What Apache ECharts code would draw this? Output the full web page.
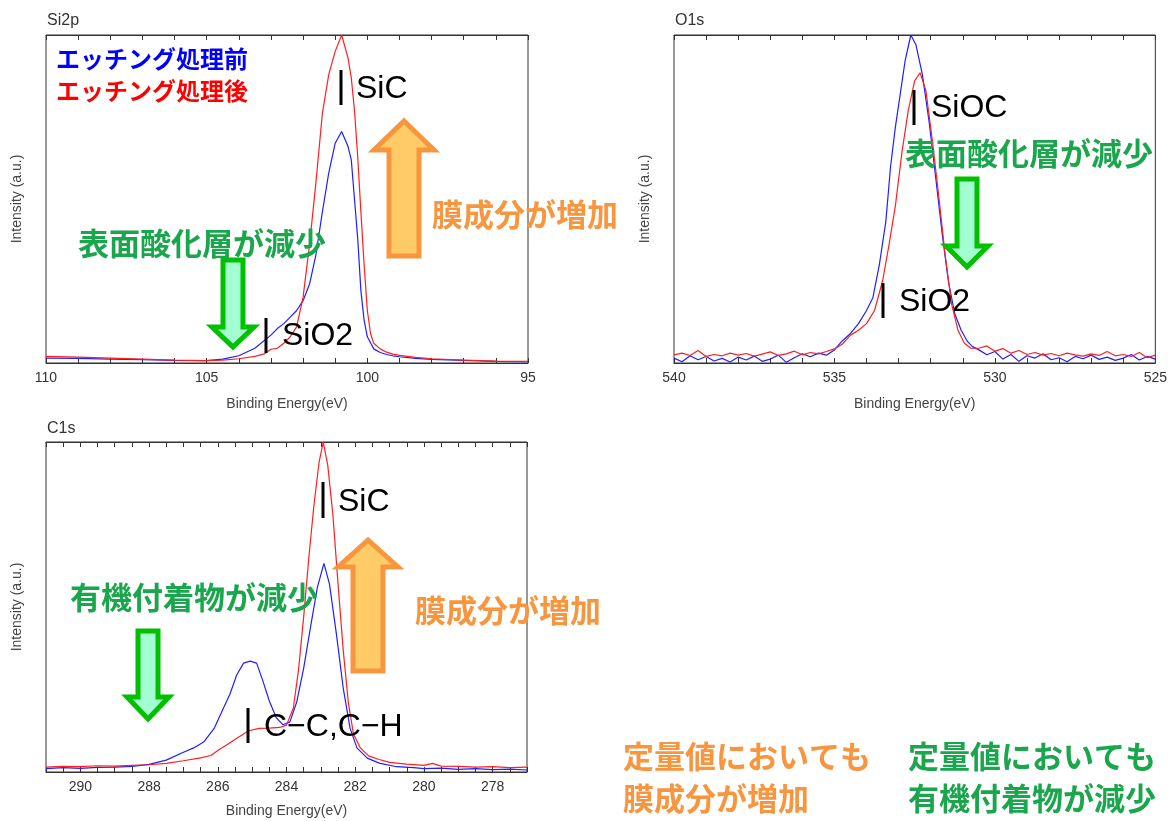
<!DOCTYPE html>
<html>
<head>
<meta charset="utf-8">
<script src="https://cdn.jsdelivr.net/npm/echarts@6/dist/echarts.min.js"></script>
<style>
  html, body { margin: 0; padding: 0; background: #fff; }
  #chart { width: 1170px; height: 821px; }
</style>
</head>
<body>
<div id="chart"></div>
<script>
// Si2p  [Binding Energy (eV), Intensity (a.u.)]
var si2pBefore = [[110,1.5],[109,1.4],[108,1.2],[107,1.0],[106,0.8],[105,0.7],[104.5,1.2],[104,2.2],[103.5,4.5],[103,8.5],[102.8,10.5],[102.6,12],[102.4,14],[102.2,16],[102.0,19],[101.8,24],[101.6,33],[101.4,46],[101.2,58],[101.0,67],[100.8,70.6],[100.6,66],[100.5,62],[100.4,50],[100.3,38],[100.2,22],[100.1,13],[100.0,8],[99.8,4.3],[99.6,3.2],[99.4,2.6],[99.2,2.2],[99,1.9],[98.5,1.4],[98,1.1],[97,0.8],[96,0.5],[95,0.4]]
var si2pAfter = [[110,2.0],[109,1.8],[108,1.5],[107,1.2],[106,0.9],[105,0.7],[104.5,0.9],[104,1.3],[103.5,2.0],[103.2,2.8],[103,4.2],[102.8,4.5],[102.6,6],[102.4,8],[102.2,11],[102.0,20],[101.8,36],[101.6,55],[101.4,76],[101.2,88],[101.0,95],[100.8,100],[100.6,93],[100.5,87],[100.4,77],[100.3,63],[100.2,46],[100.1,30],[100.0,16],[99.9,9],[99.8,6],[99.6,4.3],[99.4,3.3],[99.2,2.7],[99.0,2.3],[98.5,1.7],[98,1.3],[97,0.9],[96,0.6],[95,0.5]]

// O1s
var o1sBefore = [[540,1.5],[539.75,0.4],[539.5,2.2],[539.25,1.0],[539,2.0],[538.75,0.6],[538.5,1.4],[538.25,0.3],[538,1.8],[537.75,0.9],[537.5,2.1],[537.25,0.5],[537,1.2],[536.75,2.4],[536.5,0.2],[536.25,1.6],[536,2.8],[535.75,1.9],[535.5,3.0],[535.25,2.4],[535,4.0],
  [534.75,6.8],[534.5,9],[534.25,12],[534,16],[533.8,20],[533.6,30],[533.4,43],[533.25,60],[533.1,72],[532.95,82],[532.8,92],[532.62,100],[532.46,97],[532.26,88],[532.05,73.6],[531.85,57],[531.65,40],[531.45,25],[531.25,15],[531.05,10],[530.85,6.5],[530.7,5],
  [530.5,4.0],[530.25,2.5],[530,3.5],[529.75,1.2],[529.5,2.6],[529.25,0.5],[529,2.2],[528.75,1.5],[528.5,2.8],[528.25,1.0],[528,1.6],[527.75,0.4],[527.5,2.0],[527.25,1.3],[527,2.4],[526.75,1.1],[526.5,1.8],[526.25,0.8],[526,1.5],[525.75,2.6],[525.5,0.9],[525.25,2.0],[525,1.2]]
var o1sAfter = [[540,2.5],[539.75,3.0],[539.5,2.3],[539.25,3.8],[539,2.0],[538.75,2.6],[538.5,2.2],[538.25,3.0],[538,2.4],[537.75,2.9],[537.5,2.1],[537.25,2.7],[537,3.4],[536.75,2.3],[536.5,2.8],[536.25,3.6],[536,2.5],[535.75,3.2],[535.5,2.8],[535.25,3.5],[535,4.3],
  [534.75,5.8],[534.5,8.5],[534.25,10],[534,12],[533.75,16],[533.5,25],[533.3,36],[533.1,48],[532.9,64],[532.7,77],[532.5,86],[532.33,88.5],[532.15,83],[531.95,68],[531.75,51],[531.55,33],[531.35,18],[531.15,10],[530.95,6],[530.75,4.5],
  [530.5,4.5],[530.25,5.2],[530,3.6],[529.75,4.4],[529.5,3.0],[529.25,3.8],[529,2.6],[528.75,3.2],[528.5,2.4],[528.25,2.9],[528,2.2],[527.75,3.0],[527.5,2.5],[527.25,2.1],[527,2.8],[526.75,2.3],[526.5,3.5],[526.25,2.2],[526,2.6],[525.75,2.0],[525.5,3.2],[525.25,1.6],[525,2.4]]

// C1s
var c1sBefore = [[291,1.0],[290.5,1.3],[290,1.1],[289.5,1.4],[289,1.5],[288.5,1.7],[288,2.3],[287.5,3.6],[287,6.0],[286.7,7.3],[286.4,9.2],[286.1,13.3],[285.85,19],[285.65,23.5],[285.45,29.4],[285.25,33],[285.06,33.6],[284.87,33],[284.7,28],[284.5,21.5],[284.3,16.5],[284.1,14.3],[283.9,15.2],[283.7,21.3],[283.5,31.5],[283.3,44],[283.1,56],[282.91,63.2],[282.75,57],[282.55,42],[282.35,25.5],[282.15,13.3],[281.95,7.3],[281.65,4.2],[281.3,2.7],[280.8,1.6],[280.3,1.3],[280,1.0],[279.5,1.2],[279,0.8],[278.5,1.0],[278,0.7],[277.5,0.9],[277,0.6]]
var c1sAfter = [[291,1.5],[290.5,1.7],[290,1.6],[289.5,1.9],[289,1.8],[288.5,2.0],[288,2.2],[287.5,2.6],[287,3.4],[286.5,4.3],[286.2,5.0],[286,6.5],[285.7,8.5],[285.4,10.5],[285.1,12.5],[284.8,13.2],[284.5,13.3],[284.2,13.5],[284.0,14.2],[283.8,19.4],[283.65,31],[283.5,47],[283.35,65],[283.2,81],[283.05,94],[282.93,100],[282.8,93],[282.65,78],[282.5,57],[282.35,37],[282.2,21],[282.05,11.5],[281.85,7.3],[281.6,4.8],[281.3,3.8],[281,2.9],[280.5,2.4],[280,2.0],[279.75,2.6],[279.5,1.8],[279,1.7],[278.5,1.5],[278,1.6],[277.5,1.3],[277,1.5]]

var c1sLabels = [278, 280, 282, 284, 286, 288, 290]
var c1sTicks = [277, 277.5, 278, 278.5, 279, 279.5, 280, 280.5, 281, 281.5, 282, 282.5, 283, 283.5, 284, 284.5, 285, 285.5, 286, 286.5, 287, 287.5, 288, 288.5, 289, 289.5, 290, 290.5, 291]

var BLUE = '#1f1fff'
var RED = '#ff1f1f'
var GREEN = '#1aa64d'
var ORANGE = '#f7963f'
var LATIN = 'Liberation Sans, Arial, sans-serif'
var JP = '"Noto Sans CJK JP", sans-serif'

var myChart = echarts.init(document.getElementById('chart'))

function energyAxes(gridIndex, min, max, nameGap, c1s) {
  var bottom = {
    type: 'value', gridIndex: gridIndex, position: 'bottom', inverse: true,
    min: min, max: max,
    name: 'Binding Energy(eV)', nameLocation: 'middle', nameGap: nameGap,
    nameTextStyle: { color: '#444', fontSize: 14, fontFamily: LATIN },
    axisLine: { lineStyle: { color: '#333', width: 1 } },
    axisTick: { inside: true, length: 5, lineStyle: { color: '#333' } },
    axisLabel: { color: '#333', fontSize: 14, margin: 8, fontFamily: LATIN },
    splitLine: { show: false },
  }
  var top = {
    type: 'value', gridIndex: gridIndex, position: 'top', inverse: true,
    min: min, max: max,
    axisLine: { lineStyle: { color: '#333', width: 1 } },
    axisTick: { inside: true, length: 5, lineStyle: { color: '#333' } },
    axisLabel: { show: false },
    splitLine: { show: false },
  }
  if (c1s) {
    bottom.axisLabel.customValues = c1sLabels
    bottom.axisTick.customValues = c1sTicks
    top.axisTick.customValues = c1sTicks
  } else {
    bottom.interval = 5
    top.interval = 5
    bottom.minorTick = { show: true, splitNumber: 5, length: 5, lineStyle: { color: '#333' } }
    top.minorTick = { show: true, splitNumber: 5, length: 5, lineStyle: { color: '#333' } }
  }
  return [bottom, top]
}

function intensityAxis(gridIndex) {
  return {
    type: 'value', gridIndex: gridIndex, min: 0, max: 100,
    name: 'Intensity (a.u.)', nameLocation: 'middle', nameGap: 22, nameRotate: 90,
    nameTextStyle: { color: '#444', fontSize: 14, fontFamily: LATIN },
    axisLine: { show: false }, axisTick: { show: false },
    axisLabel: { show: false }, splitLine: { show: false },
  }
}

function spectrum(name, data, color, axisIndex) {
  return {
    name: name, type: 'line', data: data,
    xAxisIndex: axisIndex * 2, yAxisIndex: axisIndex,
    symbol: 'none', smooth: false, animation: false,
    lineStyle: { color: color, width: 1.2 },
  }
}

// 矢印（上向き/下向き）
function arrow(cx, tipY, headY, tailY, shaftHalf, headHalf, fill, stroke) {
  return {
    type: 'polygon', z: 100,
    shape: {
      points: [[cx, tipY], [cx + headHalf, headY], [cx + shaftHalf, headY], [cx + shaftHalf, tailY],
        [cx - shaftHalf, tailY], [cx - shaftHalf, headY], [cx - headHalf, headY]],
    },
    style: { fill: fill, stroke: stroke, lineWidth: 5, lineJoin: 'miter' },
  }
}

function peakMark(x, y1, y2, text, tx, ty) {
  return [
    { type: 'line', z: 100, shape: { x1: x, y1: y1, x2: x, y2: y2 }, style: { stroke: '#000', lineWidth: 3 } },
    { type: 'text', z: 100, x: tx, y: ty,
      style: { text: text, fill: '#000', fontSize: 32, fontFamily: LATIN, verticalAlign: 'middle' } },
  ]
}

function note(text, x, y, color, size) {
  return {
    type: 'text', z: 100, x: x, y: y,
    style: { text: text, fill: color, fontSize: size || 31, fontWeight: 'bold', fontFamily: JP,
      verticalAlign: 'middle', lineHeight: 42 },
  }
}

var axes1 = energyAxes(0, 95, 110, 34, false)
var axes2 = energyAxes(1, 525, 540, 34, false)
var axes3 = energyAxes(2, 277, 291, 32, true)

var option = {
  animation: false,
  title: [
    { text: 'Si2p', left: 47, top: 13, padding: 0, textStyle: { fontSize: 16, fontWeight: 'normal', color: '#333', fontFamily: LATIN } },
    { text: 'O1s', left: 675, top: 13, padding: 0, textStyle: { fontSize: 16, fontWeight: 'normal', color: '#333', fontFamily: LATIN } },
    { text: 'C1s', left: 47, top: 421, padding: 0, textStyle: { fontSize: 16, fontWeight: 'normal', color: '#333', fontFamily: LATIN } },
  ],
  grid: [
    { left: 46, top: 35, width: 482, height: 328, show: true, borderColor: '#333', borderWidth: 1, backgroundColor: '#fff' },
    { left: 674, top: 35, width: 483, height: 328, show: true, borderColor: '#333', borderWidth: 1, backgroundColor: '#fff' },
    { left: 46, top: 442, width: 481, height: 330, show: true, borderColor: '#333', borderWidth: 1, backgroundColor: '#fff' },
  ],
  xAxis: [axes1[0], axes1[1], axes2[0], axes2[1], axes3[0], axes3[1]],
  yAxis: [intensityAxis(0), intensityAxis(1), intensityAxis(2)],
  series: [
    spectrum('エッチング処理前', si2pBefore, BLUE, 0),
    spectrum('エッチング処理後', si2pAfter, RED, 0),
    spectrum('エッチング処理前', o1sBefore, BLUE, 1),
    spectrum('エッチング処理後', o1sAfter, RED, 1),
    spectrum('エッチング処理前', c1sBefore, BLUE, 2),
    spectrum('エッチング処理後', c1sAfter, RED, 2),
  ],
  graphic: [].concat(
    note('エッチング処理前', 56, 59, '#0000ff', 24),
    note('エッチング処理後', 56, 91, '#ff0000', 24),
    // Si2p
    peakMark(341, 70, 105, 'SiC', 356, 89),
    peakMark(266, 318, 353, 'SiO2', 282, 336),
    arrow(404, 121, 150, 256, 15, 30, '#ffcb66', ORANGE),
    arrow(233, 347, 327, 260, 10, 21, '#a3ffd1', '#00c000'),
    note('表面酸化層が減少', 78, 243, GREEN),
    note('膜成分が増加', 432, 214, ORANGE),
    // O1s
    peakMark(914, 90, 125, 'SiOC', 931, 108),
    peakMark(883, 283, 318, 'SiO2', 899, 302),
    arrow(967, 267, 246, 179, 10, 21, '#a3ffd1', '#00c000'),
    note('表面酸化層が減少', 905, 153, GREEN),
    // C1s
    peakMark(323, 482, 518, 'SiC', 338, 502),
    peakMark(248, 708, 743, 'C\u2212C,C\u2212H', 264, 727),
    arrow(368, 540, 567, 671, 15, 30, '#ffcb66', ORANGE),
    arrow(148, 719, 697, 631, 10, 21, '#a3ffd1', '#00c000'),
    note('有機付着物が減少', 70, 597, GREEN),
    note('膜成分が増加', 415, 610, ORANGE),
    // 定量値
    note('定量値においても\n膜成分が増加', 623, 777, ORANGE),
    note('定量値においても\n有機付着物が減少', 908, 777, GREEN)
  ),
}

myChart.setOption(option, true)
</script>
</body>
</html>
